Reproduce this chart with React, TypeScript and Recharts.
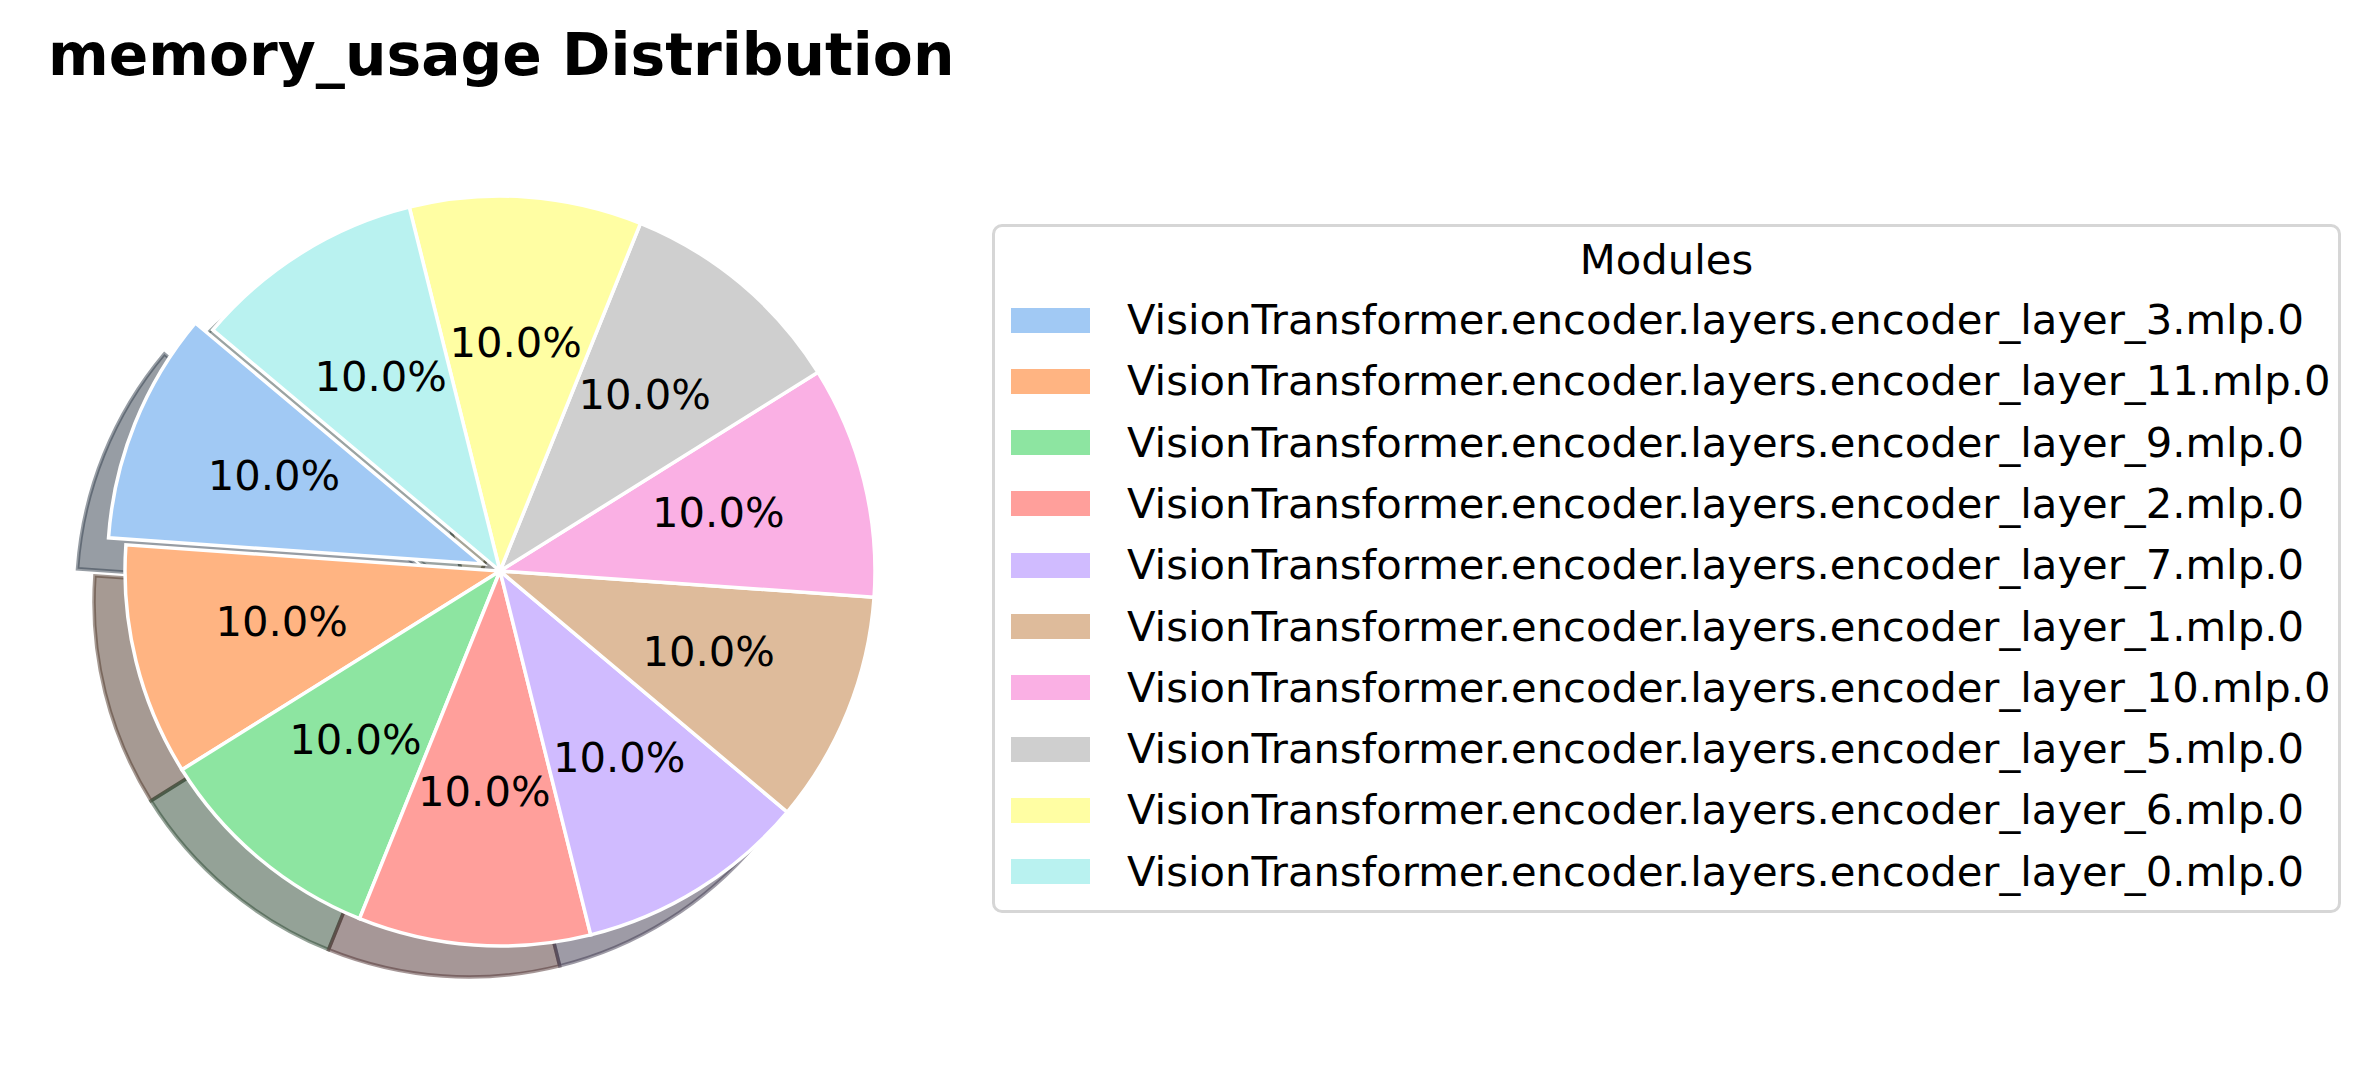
import React from 'react'
import { PieChart, Pie, Cell, Legend } from 'recharts'

// slices in drawing order (counter-clockwise from 140deg)
const modules = [
  'VisionTransformer.encoder.layers.encoder_layer_3.mlp.0',
  'VisionTransformer.encoder.layers.encoder_layer_11.mlp.0',
  'VisionTransformer.encoder.layers.encoder_layer_9.mlp.0',
  'VisionTransformer.encoder.layers.encoder_layer_2.mlp.0',
  'VisionTransformer.encoder.layers.encoder_layer_7.mlp.0',
  'VisionTransformer.encoder.layers.encoder_layer_1.mlp.0',
  'VisionTransformer.encoder.layers.encoder_layer_10.mlp.0',
  'VisionTransformer.encoder.layers.encoder_layer_5.mlp.0',
  'VisionTransformer.encoder.layers.encoder_layer_6.mlp.0',
  'VisionTransformer.encoder.layers.encoder_layer_0.mlp.0',
]
const memoryUsage = [1, 1, 1, 1, 1, 1, 1, 1, 1, 1]
const colors = ['#a1c9f4', '#ffb482', '#8de5a1', '#ff9f9b', '#d0bbff', '#debb9b', '#fab0e4', '#cfcfcf', '#fffea3', '#b9f2f0']
const explode = [0.05, 0, 0, 0, 0, 0, 0, 0, 0, 0]

const W = 2373
const H = 1071
const CX = 500
const CY = 571
const R = 375
const START = 140
const SHADOW = 31
const FONT = '"DejaVu Sans", sans-serif'

const data = modules.map((name, i) => ({ name, value: memoryUsage[i] }))
const total = memoryUsage.reduce((a, n) => a + n, 0)

// darker shadow tint, like matplotlib's Shadow patch (0.3 * rgb, alpha 0.5)
const shade = (hex: string) => {
  const n = parseInt(hex.slice(1), 16)
  const c = [(n >> 16) & 255, (n >> 8) & 255, n & 255].map((v) => Math.round(v * 0.3))
  return `rgb(${c[0]},${c[1]},${c[2]})`
}

// offset of an exploded wedge, along its mid angle
const explodeOffset = (i: number) => {
  const before = memoryUsage.slice(0, i).reduce((a, n) => a + n, 0)
  const mid = START + (360 * (before + memoryUsage[i] / 2)) / total
  const d = explode[i] * R
  return { dx: d * Math.cos((mid * Math.PI) / 180), dy: -d * Math.sin((mid * Math.PI) / 180) }
}

const pctLabel = (show: (i: number) => boolean) => (p: any) => {
  if (!show(p.index)) return null
  const rad = (-p.midAngle * Math.PI) / 180
  const r = p.outerRadius * 0.6
  return (
    <text
      key={`lbl-${p.index}`}
      x={p.cx + r * Math.cos(rad)}
      y={p.cy + r * Math.sin(rad) - 4}
      textAnchor="middle"
      dominantBaseline="central"
      fontFamily={FONT}
      fontSize={41.7}
      fill="#000"
    >
      {(p.percent * 100).toFixed(1)}%
    </text>
  )
}

function LegendBox() {
  return (
    <div
      style={{
        position: 'relative',
        boxSizing: 'border-box',
        width: 1349,
        height: 689,
        border: '3px solid #d6d6d6',
        borderRadius: 10,
        background: '#fff',
        fontFamily: FONT,
        fontSize: 41.7,
        color: '#000',
      }}
    >
      <div style={{ position: 'absolute', left: 0, right: 0, top: 33 - 25, height: 50, lineHeight: '50px', textAlign: 'center' }}>Modules</div>
      {modules.map((m, i) => (
        <div key={m} style={{ position: 'absolute', left: 0, top: 93 + i * 61.3 - 25, height: 50, width: '100%' }}>
          <div style={{ position: 'absolute', left: 16, top: 12.5, width: 79, height: 25, background: colors[i] }} />
          <div style={{ position: 'absolute', left: 132, top: 0, lineHeight: '50px', whiteSpace: 'nowrap' }}>{m}</div>
        </div>
      ))}
    </div>
  )
}

export default function App() {
  const ex = explodeOffset(0)
  const isExploded = (i: number) => explode[i] > 0
  return (
    <div style={{ position: 'relative', width: W, height: H, background: '#fff' }}>
      <style>{'body{margin:0}'}</style>
      <svg width={W} height={120} style={{ position: 'absolute', left: 0, top: 0 }}>
        <text x={48} y={75} fontFamily={FONT} fontWeight="bold" fontSize={58.3} fill="#000">
          memory_usage Distribution
        </text>
      </svg>
      <div style={{ position: 'absolute', left: 0, top: 0 }}>
        <PieChart width={W} height={H} margin={{ top: 0, right: 0, bottom: 0, left: 0 }}>
          {/* shadows */}
          <Pie data={data} dataKey="value" nameKey="name" cx={CX - SHADOW} cy={CY + SHADOW} outerRadius={R}
            startAngle={START} endAngle={START + 360} isAnimationActive={false} legendType="none" strokeWidth={3.5}>
            {data.map((d, i) => (
              <Cell key={d.name} fill={isExploded(i) ? 'none' : shade(colors[i])} stroke={isExploded(i) ? 'none' : shade(colors[i])}
                fillOpacity={0.5} strokeOpacity={0.5} />
            ))}
          </Pie>
          <Pie data={data} dataKey="value" nameKey="name" cx={CX - SHADOW + ex.dx} cy={CY + SHADOW + ex.dy} outerRadius={R}
            startAngle={START} endAngle={START + 360} isAnimationActive={false} legendType="none" strokeWidth={3.5}>
            {data.map((d, i) => (
              <Cell key={d.name} fill={isExploded(i) ? shade(colors[i]) : 'none'} stroke={isExploded(i) ? shade(colors[i]) : 'none'}
                fillOpacity={0.5} strokeOpacity={0.5} />
            ))}
          </Pie>
          {/* wedges */}
          <Pie data={data} dataKey="value" nameKey="name" cx={CX} cy={CY} outerRadius={R}
            startAngle={START} endAngle={START + 360} isAnimationActive={false} legendType="none"
            stroke="#fff" strokeWidth={3.5} labelLine={false} label={pctLabel((i) => !isExploded(i))}>
            {data.map((d, i) => (
              <Cell key={d.name} fill={isExploded(i) ? 'none' : colors[i]} stroke={isExploded(i) ? 'none' : '#fff'} />
            ))}
          </Pie>
          <Pie data={data} dataKey="value" nameKey="name" cx={CX + ex.dx} cy={CY + ex.dy} outerRadius={R}
            startAngle={START} endAngle={START + 360} isAnimationActive={false} legendType="none"
            stroke="#fff" strokeWidth={3.5} labelLine={false} label={pctLabel(isExploded)}>
            {data.map((d, i) => (
              <Cell key={d.name} fill={isExploded(i) ? colors[i] : 'none'} stroke={isExploded(i) ? '#fff' : 'none'} />
            ))}
          </Pie>
          <Legend content={() => <LegendBox />}
            wrapperStyle={{ position: 'absolute', left: 992, top: 224, width: 1349, height: 689, bottom: 'auto', right: 'auto' }} />
        </PieChart>
      </div>
    </div>
  )
}
